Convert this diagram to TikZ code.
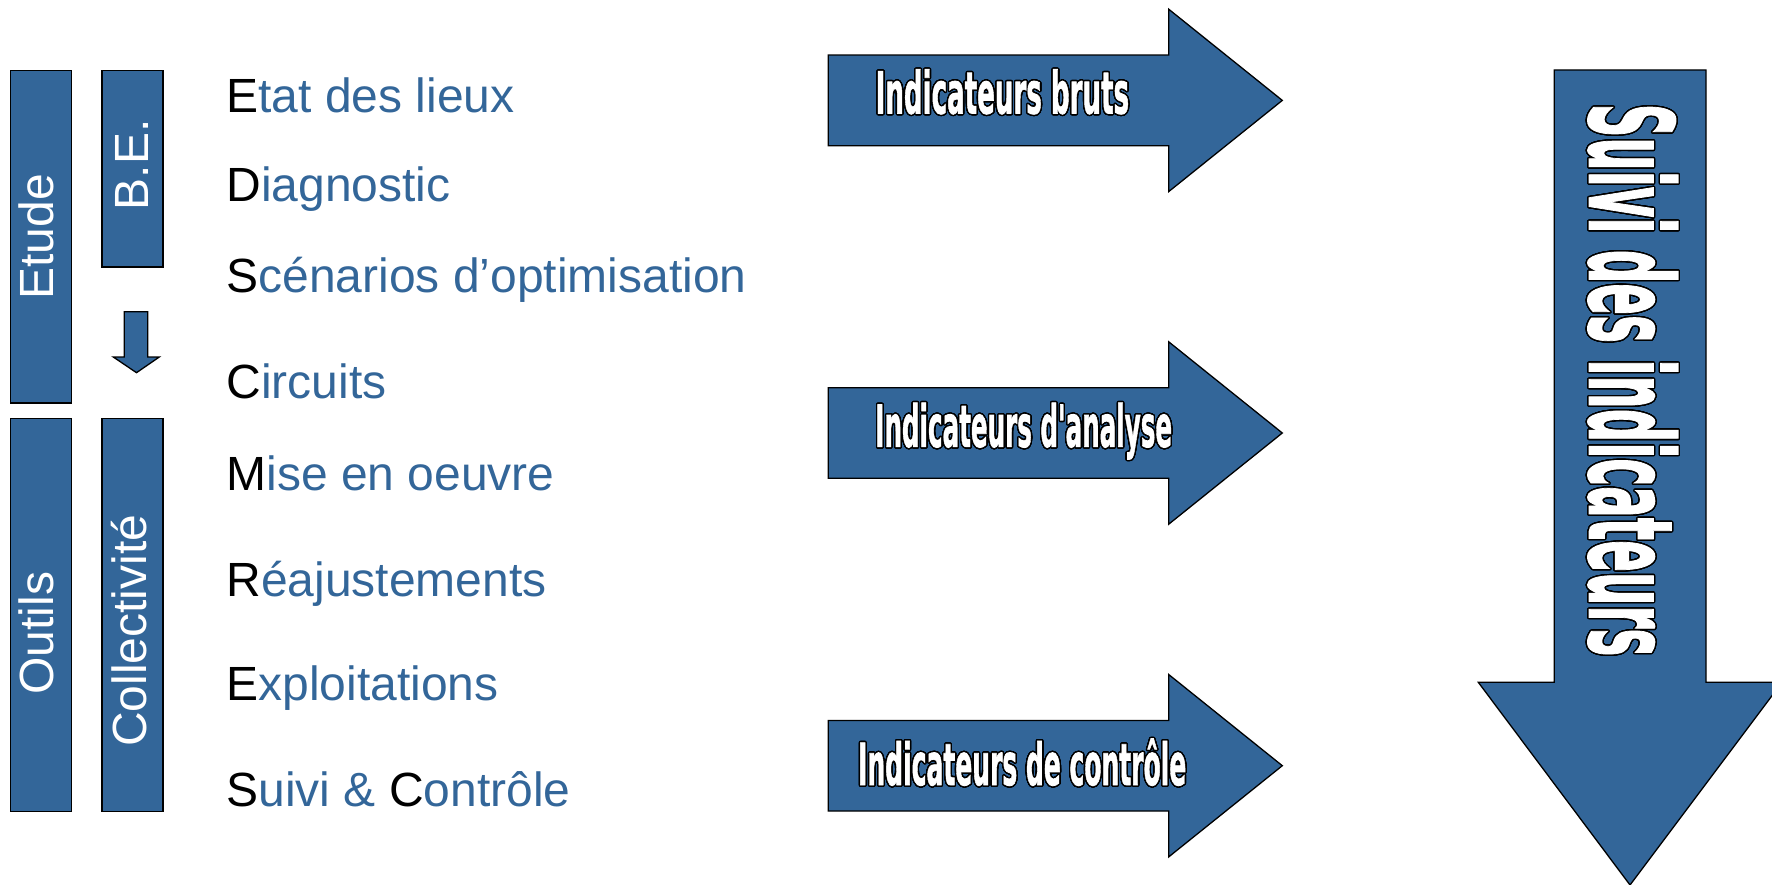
\documentclass[tikz,border=0pt]{standalone}
\usepackage{fontspec}
\setmainfont{Liberation Sans}
\newfontfamily\outfont{DejaVu Sans}[FakeBold=1.5]
\usepackage{contour}
\contourlength{1.4pt}
\contournumber{32}
\definecolor{bleu}{RGB}{51,102,153}
\begin{document}
\begin{tikzpicture}[x=1pt,y=-1pt,
  blk/.style={draw=black, line width=1.3pt, fill=bleu, line join=miter},
  item/.style={anchor=base west, inner sep=0pt, text=bleu, font=\fontsize{48}{56}\selectfont},
  vlab/.style={anchor=base, rotate=90, inner sep=0pt, text=white, font=\fontsize{48}{56}\selectfont},
  olab/.style={anchor=base, inner sep=0pt, text=white, font=\outfont\bfseries\fontsize{58}{64}\selectfont}]
\useasboundingbox (0,0) rectangle (1772,885);
% left boxes
\draw[blk] (10.7,70.7) rectangle (71.7,403);
\draw[blk] (102,70.7) rectangle (163,267);
\draw[blk] (10.7,418.3) rectangle (71.7,811.7);
\draw[blk] (102,418.3) rectangle (163,811.7);
% small down arrow
\draw[blk] (124.3,311.7) -- (147.7,311.7) -- (147.7,357) -- (159.3,357) -- (136.5,372.7) -- (113.3,357) -- (124.3,357) -- cycle;
% vertical labels
\node[vlab] (etude) at (53.3,237) {Etude};
\node[vlab] (be) at (148.3,165) {B.E.};
\node[vlab] (outils) at (53.3,633.3) {Outils};
\node[vlab] (coll) at (146.7,630.8) {Collectivité};
% list items
\node[item] (t1) at (226.3,112.3) {\textcolor{black}{E}tat des lieux};
\node[item] (t2) at (226.3,201.9) {\textcolor{black}{D}iagnostic};
\node[item] (t3) at (226.3,292.3) {\textcolor{black}{S}cénarios d’optimisation};
\node[item] (t4) at (226.3,398.3) {\textcolor{black}{C}ircuits};
\node[item] (t5) at (226.3,490) {\textcolor{black}{M}ise en oeuvre};
\node[item] (t6) at (226.3,596.7) {\textcolor{black}{R}éajustements};
\node[item] (t7) at (226.3,700.7) {\textcolor{black}{E}xploitations};
\node[item] (t8) at (226.3,806.7) {\textcolor{black}{S}uivi \& \textcolor{black}{C}ontrôle};
% right arrows
\draw[blk] (828.3,55.1) -- (1168.7,55.1) -- (1168.7,9.2) -- (1282.3,100.4) -- (1168.7,191.6) -- (1168.7,145.7) -- (828.3,145.7) -- cycle;
\draw[blk] (828.3,387.7) -- (1168.7,387.7) -- (1168.7,341.8) -- (1282.3,433) -- (1168.7,524.2) -- (1168.7,478.3) -- (828.3,478.3) -- cycle;
\draw[blk] (828.3,720.4) -- (1168.7,720.4) -- (1168.7,674.5) -- (1282.3,765.7) -- (1168.7,856.9) -- (1168.7,811) -- (828.3,811) -- cycle;
\node[olab] (ib) at (1002.4,113.5) {\contour{black}{\scalebox{0.45}[1]{Indicateurs bruts}}};
\node[olab] (ia) at (1023.7,446.8) {\contour{black}{\scalebox{0.424}[1]{Indicateurs d'analyse}}};
\node[olab] (ic) at (1022.2,785) {\contour{black}{\scalebox{0.431}[1]{Indicateurs de contrôle}}};
% big down arrow
\draw[blk] (1554.3,70) -- (1706,70) -- (1706,682.3) -- (1782,682.3) -- (1630,885) -- (1478.3,682.3) -- (1554.3,682.3) -- cycle;
\node[olab, rotate=-90, font=\outfont\bfseries\fontsize{116}{120}\selectfont] (suivi) at (1589.5,380) {\contour{black}{\scalebox{0.404}[1]{Suivi des indicateurs}}};
\end{tikzpicture}
\end{document}
